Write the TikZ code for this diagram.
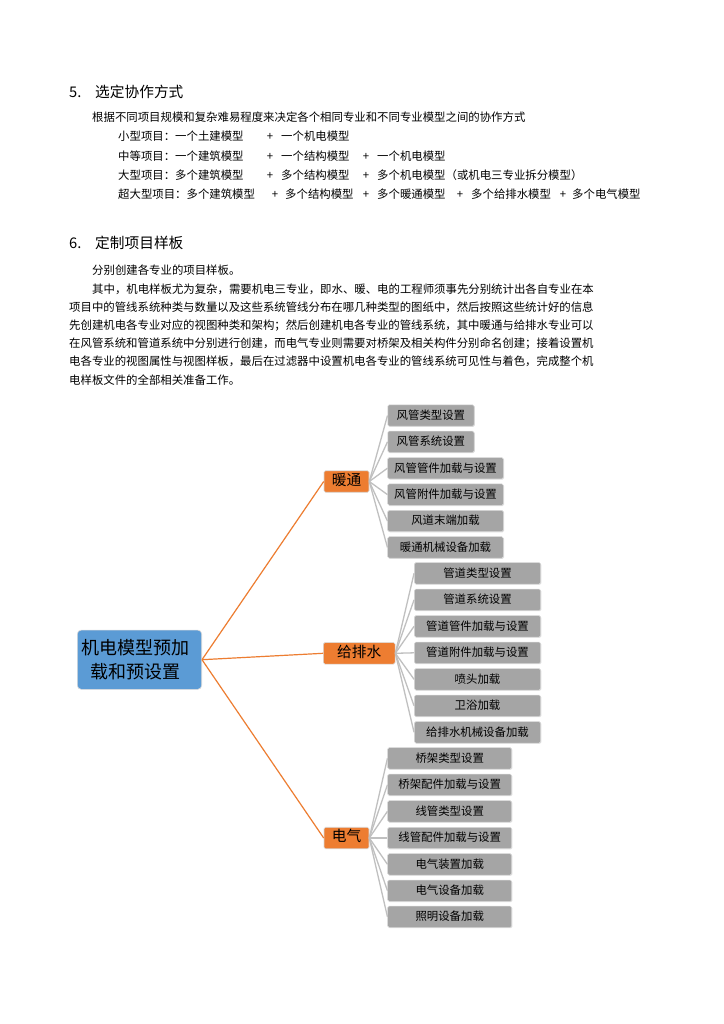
\documentclass[tikz,border=0pt]{standalone}
\usepackage{fontspec}
\newfontfamily\cjk{Noto Sans CJK SC}
\usetikzlibrary{shadows}
\definecolor{orgc}{HTML}{ED7D31}
\definecolor{bluec}{HTML}{5B9BD5}
\definecolor{grayc}{HTML}{A5A5A5}
\definecolor{linec}{HTML}{C0C0C0}
\begin{document}
\begin{tikzpicture}[x=1pt,y=-1pt,
 body/.style={font=\cjk\fontsize{11.4}{13}\selectfont, anchor=base west, inner sep=0pt},
 plus/.style={font=\cjk\fontsize{11.4}{13}\selectfont, anchor=base, inner sep=0pt},
 head/.style={font=\cjk\fontsize{14.7}{17}\selectfont, anchor=base west, inner sep=0pt},
 rootbox/.style={fill=bluec, draw=white!85!black, line width=0.6pt, rounded corners=4pt, minimum width=124.4pt, minimum height=59.3pt, inner sep=0pt, align=center, font=\cjk\fontsize{18}{24}\selectfont},
 midbox/.style={fill=orgc, draw=white!85!black, line width=0.6pt, rounded corners=1.5pt, minimum height=21.5pt, inner sep=0pt, font=\cjk\fontsize{14.7}{17}\selectfont, text height=0.88em, text depth=0.12em},
 leafbox/.style={fill=grayc, draw=white!85!black, line width=0.5pt, rounded corners=1.5pt, minimum height=21.4pt, inner sep=0pt, font=\cjk\fontsize{11.4}{13}\selectfont, text height=0.88em, text depth=0.12em, drop shadow={shadow xshift=0.7pt, shadow yshift=-0.7pt, opacity=0.25}},
 orgline/.style={draw=orgc, line width=1.2pt},
 grayline/.style={draw=linec, line width=1.3pt}]
\useasboundingbox[fill=white] (0,0) rectangle (723,1024);

% ---- section 5
\node[head] (h5n) at (69,97.6) {5.};
\node[head] (h5) at (95,97.6) {选定协作方式};
\node[body] (p5) at (92,121.3) {根据不同项目规模和复杂难易程度来决定各个相同专业和不同专业模型之间的协作方式};

\node[body] (r1a) at (118,140.3) {小型项目：一个土建模型};
\node[plus] (r1p1) at (270,140.3) {+};
\node[body] (r1b) at (281,140.3) {一个机电模型};

\node[body] (r2a) at (118,160.3) {中等项目：一个建筑模型};
\node[plus] (r2p1) at (270,160.3) {+};
\node[body] (r2b) at (281,160.3) {一个结构模型};
\node[plus] (r2p2) at (366,160.3) {+};
\node[body] (r2c) at (377,160.3) {一个机电模型};

\node[body] (r3a) at (118,179.3) {大型项目：多个建筑模型};
\node[plus] (r3p1) at (270,179.3) {+};
\node[body] (r3b) at (281,179.3) {多个结构模型};
\node[plus] (r3p2) at (366,179.3) {+};
\node[body] (r3c) at (377,179.3) {多个机电模型（或机电三专业拆分模型）};

\node[body] (r4a) at (118,198.3) {超大型项目：多个建筑模型};
\node[plus] (r4p1) at (275,198.3) {+};
\node[body] (r4b) at (285,198.3) {多个结构模型};
\node[plus] (r4p2) at (366,198.3) {+};
\node[body] (r4c) at (377,198.3) {多个暖通模型};
\node[plus] (r4p3) at (460,198.3) {+};
\node[body] (r4d) at (471,198.3) {多个给排水模型};
\node[plus] (r4p4) at (563,198.3) {+};
\node[body] (r4e) at (572,198.3) {多个电气模型};

% ---- section 6
\node[head] (h6n) at (69,248.6) {6.};
\node[head] (h6) at (95,248.6) {定制项目样板};
\node[body] (q0) at (92,274.3) {分别创建各专业的项目样板。};
\node[body] (q1) at (92,293.3) {其中，机电样板尤为复杂，需要机电三专业，即水、暖、电的工程师须事先分别统计出各自专业在本};
\node[body] (q2) at (69,311.3) {项目中的管线系统种类与数量以及这些系统管线分布在哪几种类型的图纸中，然后按照这些统计好的信息};
\node[body] (q3) at (69,329.3) {先创建机电各专业对应的视图种类和架构；然后创建机电各专业的管线系统，其中暖通与给排水专业可以};
\node[body] (q4) at (69,347.3) {在风管系统和管道系统中分别进行创建，而电气专业则需要对桥架及相关构件分别命名创建；接着设置机};
\node[body] (q5) at (69,365.3) {电各专业的视图属性与视图样板，最后在过滤器中设置机电各专业的管线系统可见性与着色，完成整个机};
\node[body] (q6) at (69,384.3) {电样板文件的全部相关准备工作。};

% ---- mind map
\node[rootbox] (root) at (139.5,659.7) {机电模型预加\hspace*{9pt}\\载和预设置\hspace*{9pt}};
\node[midbox, minimum width=45pt] (hv) at (346.5,481.5) {暖通};
\node[midbox, minimum width=71.7pt] (ws) at (359.2,653.3) {给排水};
\node[midbox, minimum width=45pt] (el) at (346.5,838) {电气};

\node[leafbox, minimum width=86.3pt] (hv1) at (430.9,415.5) {风管类型设置};
\node[leafbox, minimum width=86.3pt] (hv2) at (430.9,441.8) {风管系统设置};
\node[leafbox, minimum width=115.6pt] (hv3) at (445.5,468.2) {风管管件加载与设置};
\node[leafbox, minimum width=115.6pt] (hv4) at (445.5,494.6) {风管附件加载与设置};
\node[leafbox, minimum width=115.6pt] (hv5) at (445.5,521.0) {风道末端加载};
\node[leafbox, minimum width=115.6pt] (hv6) at (445.5,547.4) {暖通机械设备加载};

\node[leafbox, minimum width=126.4pt] (ws1) at (477.5,573.3) {管道类型设置};
\node[leafbox, minimum width=126.4pt] (ws2) at (477.5,599.8) {管道系统设置};
\node[leafbox, minimum width=126.4pt] (ws3) at (477.5,626.3) {管道管件加载与设置};
\node[leafbox, minimum width=126.4pt] (ws4) at (477.5,652.8) {管道附件加载与设置};
\node[leafbox, minimum width=126.4pt] (ws5) at (477.5,679.3) {喷头加载};
\node[leafbox, minimum width=126.4pt] (ws6) at (477.5,705.8) {卫浴加载};
\node[leafbox, minimum width=126.4pt] (ws7) at (477.5,732.3) {给排水机械设备加载};

\node[leafbox, minimum width=124pt] (el1) at (449.7,758.3) {桥架类型设置};
\node[leafbox, minimum width=124pt] (el2) at (449.7,784.8) {桥架配件加载与设置};
\node[leafbox, minimum width=124pt] (el3) at (449.7,811.3) {线管类型设置};
\node[leafbox, minimum width=124pt] (el4) at (449.7,838.0) {线管配件加载与设置};
\node[leafbox, minimum width=124pt] (el5) at (449.7,864.3) {电气装置加载};
\node[leafbox, minimum width=124pt] (el6) at (449.7,890.7) {电气设备加载};
\node[leafbox, minimum width=124pt] (el7) at (449.7,916.8) {照明设备加载};

\draw[orgline] (root.east) -- (hv.west);
\draw[orgline] (root.east) -- (ws.west);
\draw[orgline] (root.east) -- (el.west);

\foreach \i in {1,...,6} { \draw[grayline] (hv.east) -- (hv\i.west); }
\foreach \i in {1,...,7} { \draw[grayline] (ws.east) -- (ws\i.west); }
\foreach \i in {1,...,7} { \draw[grayline] (el.east) -- (el\i.west); }
\end{tikzpicture}
\end{document}
